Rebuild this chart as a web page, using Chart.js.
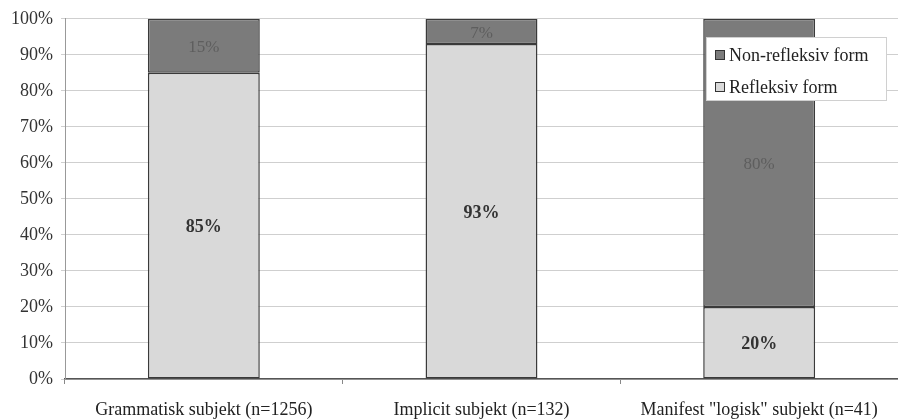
<!DOCTYPE html>
<html>
<head>
<meta charset="utf-8">
<script src="https://cdn.jsdelivr.net/npm/chart.js@4/dist/chart.umd.min.js"></script>
<style>
  html, body { margin: 0; padding: 0; background: #fff; }
  #wrap { width: 898px; height: 419px; }
</style>
</head>
<body>
<div id="wrap"><canvas id="c" width="898" height="419"></canvas></div>
<script>
// Categories and shares (percent) for each form
const categories = ['Grammatisk subjekt (n=1256)', 'Implicit subjekt (n=132)', 'Manifest "logisk" subjekt (n=41)'];
const refleksiv = [85, 93, 20];
const nonRefleksiv = [15, 7, 80];
const yTicks = [0, 10, 20, 30, 40, 50, 60, 70, 80, 90, 100];

const FONT = '"Liberation Serif", "Times New Roman", serif';

// Percentage labels in the middle of each segment
const segmentLabels = {
  id: 'segmentLabels',
  afterDatasetsDraw(chart) {
    const ctx = chart.ctx;
    ctx.save();
    ctx.textAlign = 'center';
    ctx.textBaseline = 'middle';
    chart.data.datasets.forEach((ds, di) => {
      const meta = chart.getDatasetMeta(di);
      meta.data.forEach((bar, i) => {
        const v = ds.data[i];
        const y = (bar.y + bar.base) / 2;
        ctx.font = (di === 0 ? 'bold 18px ' : '17px ') + FONT;
        ctx.fillStyle = ds.labelColor;
        ctx.fillText(v + '%', bar.x, y + 2);
      });
    });
    ctx.restore();
  }
};

// Boxed legend placed inside the plot area, top right
const boxLegend = {
  id: 'boxLegend',
  afterDraw(chart) {
    const ctx = chart.ctx;
    const x = 706, y = 37, w = 180, h = 63;
    ctx.save();
    ctx.fillStyle = '#ffffff';
    ctx.fillRect(x, y, w, h);
    ctx.strokeStyle = '#d0d0d0';
    ctx.lineWidth = 1;
    ctx.strokeRect(x + 0.5, y + 0.5, w, h);
    const items = [chart.data.datasets[1], chart.data.datasets[0]];
    ctx.font = '18px ' + FONT;
    ctx.textBaseline = 'middle';
    ctx.textAlign = 'left';
    items.forEach((ds, k) => {
      const cy = y + 18 + k * 32;
      ctx.fillStyle = ds.backgroundColor;
      ctx.fillRect(x + 9, cy - 5, 10, 10);
      ctx.strokeStyle = '#333';
      ctx.lineWidth = 1;
      ctx.strokeRect(x + 9.5, cy - 4.5, 9, 9);
      ctx.fillStyle = '#222';
      ctx.fillText(ds.label, x + 23, cy + 1);
    });
    ctx.restore();
  }
};

new Chart(document.getElementById('c'), {
  type: 'bar',
  data: {
    labels: categories,
    datasets: [
      {
        label: 'Refleksiv form',
        data: refleksiv,
        backgroundColor: '#d9d9d9',
        borderColor: '#3a3a3a',
        borderWidth: 1.5,
        borderSkipped: false,
        labelColor: '#333333',
        barPercentage: 0.403,
        categoryPercentage: 1
      },
      {
        label: 'Non-refleksiv form',
        data: nonRefleksiv,
        backgroundColor: '#7b7b7b',
        borderColor: '#3a3a3a',
        borderWidth: 1.5,
        borderSkipped: false,
        labelColor: '#5e5e5e',
        barPercentage: 0.403,
        categoryPercentage: 1
      }
    ]
  },
  options: {
    responsive: false,
    animation: false,
    devicePixelRatio: 1,
    layout: { padding: { top: 17, right: 0, left: 0, bottom: 0 } },
    plugins: {
      legend: { display: false },
      tooltip: { enabled: false }
    },
    scales: {
      x: {
        stacked: true,
        grid: {
          offset: true,
          drawOnChartArea: false,
          drawTicks: true,
          tickLength: 5,
          color: '#888'
        },
        border: { display: true, color: '#555', width: 1.5 },
        ticks: {
          color: '#222',
          font: { family: FONT, size: 18 },
          padding: 15,
          maxRotation: 0,
          autoSkip: false
        },
        afterFit(scale) { scale.height = 40; }
      },
      y: {
        stacked: true,
        min: 0,
        max: 100,
        afterBuildTicks(scale) { scale.ticks = yTicks.map(v => ({ value: v })); },
        grid: {
          color: '#cfcfcf',
          lineWidth: 1,
          drawTicks: true,
          tickLength: 4
        },
        border: { display: true, color: '#999', width: 1 },
        ticks: {
          color: '#333',
          font: { family: FONT, size: 18 },
          padding: 8,
          callback: v => v + '%'
        },
        afterFit(scale) { scale.width = 65; }
      }
    }
  },
  plugins: [segmentLabels, boxLegend]
});
</script>
</body>
</html>
